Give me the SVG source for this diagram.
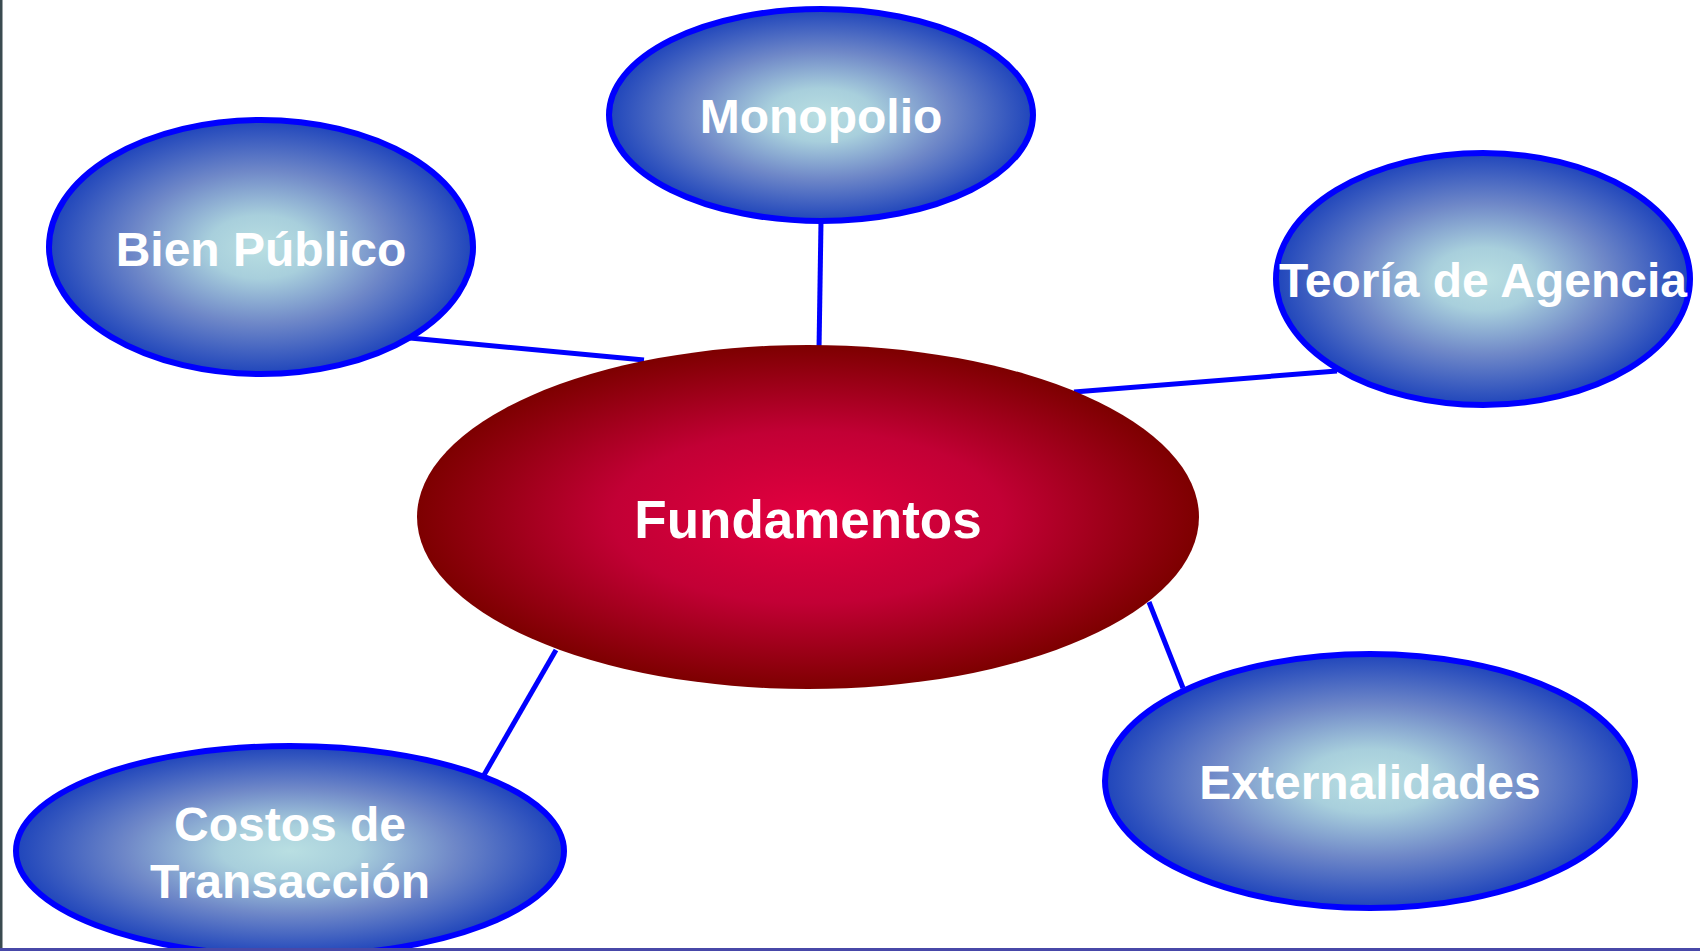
<svg xmlns="http://www.w3.org/2000/svg" width="1700" height="951" viewBox="0 0 1700 951">
<defs>
<radialGradient id="gBlue" cx="50%" cy="50%" r="50%">
<stop offset="0" stop-color="#b9dfe2"/>
<stop offset="0.25" stop-color="#a8cfdc"/>
<stop offset="0.6" stop-color="#6f88c8"/>
<stop offset="1" stop-color="#1f45bb"/>
</radialGradient>
<radialGradient id="gRed" cx="50%" cy="50%" r="50%">
<stop offset="0" stop-color="#e30040"/>
<stop offset="0.5" stop-color="#c20035"/>
<stop offset="1" stop-color="#7d0000"/>
</radialGradient>
<style>
.sat{fill:url(#gBlue);stroke:#0000ff;stroke-width:6}
.core{fill:url(#gRed)}
.lbl{font-family:"Liberation Sans",Arial,sans-serif;font-weight:bold;font-size:48px;fill:#ffffff;text-anchor:middle}
.conn{stroke:#0000ff;stroke-width:5;fill:none}
</style>
</defs>
<rect x="0" y="0" width="1700" height="951" fill="#ffffff"/>
<rect x="0" y="0" width="2.5" height="951" fill="#3a4a50"/>

<g id="connectors">
<line class="conn" x1="410" y1="338" x2="644" y2="360"/>
<line class="conn" x1="821" y1="222" x2="819" y2="350"/>
<line class="conn" x1="1337" y1="371" x2="1074" y2="392"/>
<line class="conn" x1="1149" y1="602" x2="1183" y2="688"/>
<line class="conn" x1="556" y1="650" x2="484" y2="775"/>
</g>

<g id="node-fundamentos">
<ellipse class="core" cx="808" cy="517" rx="391" ry="172"/>
<text class="lbl" x="808" y="538" style="font-size:53px">Fundamentos</text>
</g>

<g id="node-monopolio">
<ellipse class="sat" cx="821" cy="115" rx="212" ry="106"/>
<text class="lbl" x="821" y="133">Monopolio</text>
</g>

<g id="node-bien-publico">
<ellipse class="sat" cx="261" cy="247" rx="212" ry="127"/>
<text class="lbl" x="261" y="266">Bien Público</text>
</g>

<g id="node-teoria-agencia">
<ellipse class="sat" cx="1483" cy="279" rx="207" ry="126"/>
<text class="lbl" x="1483" y="297">Teoría de Agencia</text>
</g>

<g id="node-externalidades">
<ellipse class="sat" cx="1370" cy="781" rx="265" ry="127"/>
<text class="lbl" x="1370" y="799">Externalidades</text>
</g>

<g id="node-costos">
<ellipse class="sat" cx="290" cy="851" rx="274" ry="105"/>
<text class="lbl" x="290" y="841">Costos de</text>
<text class="lbl" x="290" y="898">Transacción</text>
</g>

<rect x="0" y="948" width="1700" height="3" fill="#4848a8"/>
</svg>
